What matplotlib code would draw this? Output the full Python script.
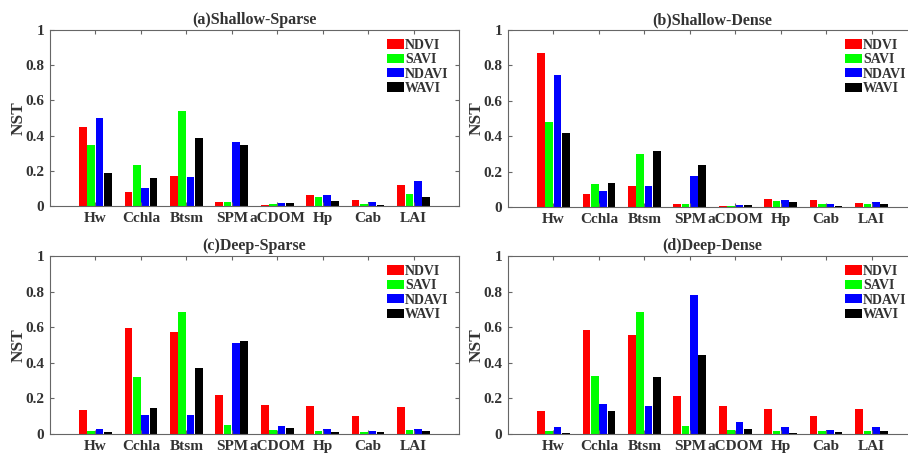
import numpy as np
import matplotlib
matplotlib.use("Agg")
import matplotlib.pyplot as plt
from matplotlib.patches import Patch

categories = ["Hw", "Cchla", "Btsm", "SPM", "aCDOM", "Hp", "Cab", "LAI"]
series_names = ["NDVI", "SAVI", "NDAVI", "WAVI"]
colors = ["#FF0000", "#00FF00", "#0000FF", "#000000"]
titles = ["(a)Shallow-Sparse", "(b)Shallow-Dense", "(c)Deep-Sparse", "(d)Deep-Dense"]
yticks = [0, 0.2, 0.4, 0.6, 0.8, 1]
ytick_labels = ["0", "0.2", "0.4", "0.6", "0.8", "1"]

# (a) Shallow-Sparse
a_ndvi = [0.451, 0.077, 0.169, 0.024, 0.007, 0.060, 0.034, 0.117]
a_savi = [0.344, 0.235, 0.539, 0.024, 0.011, 0.050, 0.013, 0.066]
a_ndavi = [0.502, 0.105, 0.165, 0.363, 0.017, 0.060, 0.020, 0.143]
a_wavi = [0.190, 0.160, 0.385, 0.346, 0.017, 0.030, 0.007, 0.051]
# (b) Shallow-Dense
b_ndvi = [0.872, 0.075, 0.120, 0.019, 0.006, 0.047, 0.038, 0.022]
b_savi = [0.481, 0.132, 0.298, 0.017, 0.006, 0.034, 0.017, 0.017]
b_ndavi = [0.743, 0.089, 0.120, 0.177, 0.012, 0.040, 0.015, 0.026]
b_wavi = [0.420, 0.138, 0.315, 0.240, 0.014, 0.030, 0.006, 0.019]
# (c) Deep-Sparse
c_ndvi = [0.133, 0.598, 0.571, 0.218, 0.165, 0.156, 0.103, 0.152]
c_savi = [0.017, 0.323, 0.686, 0.049, 0.024, 0.017, 0.013, 0.021]
c_ndavi = [0.028, 0.109, 0.107, 0.511, 0.047, 0.026, 0.017, 0.026]
c_wavi = [0.011, 0.147, 0.370, 0.523, 0.034, 0.011, 0.013, 0.017]
# (d) Deep-Dense
d_ndvi = [0.130, 0.585, 0.555, 0.215, 0.157, 0.143, 0.102, 0.140]
d_savi = [0.017, 0.325, 0.685, 0.047, 0.021, 0.017, 0.015, 0.017]
d_ndavi = [0.038, 0.166, 0.157, 0.779, 0.070, 0.038, 0.025, 0.038]
d_wavi = [0.008, 0.130, 0.319, 0.442, 0.026, 0.008, 0.011, 0.015]

panels = [
    [a_ndvi, a_savi, a_ndavi, a_wavi],
    [b_ndvi, b_savi, b_ndavi, b_wavi],
    [c_ndvi, c_savi, c_ndavi, c_wavi],
    [d_ndvi, d_savi, d_ndavi, d_wavi],
]

plt.rcParams['font.family'] = ['Liberation Serif', 'DejaVu Serif']
plt.rcParams['font.weight'] = 'bold'

W, H = 908, 454
fig = plt.figure(figsize=(W / 100, H / 100), dpi=100)

# axes rectangles in pixels: left, top, right, bottom
rects = [(50, 30, 459, 206), (508, 30, 917, 207), (50, 256, 459, 434), (508, 256, 917, 434)]

spine_col = "#666666"
text_col = "#333333"
x = np.arange(1, len(categories) + 1)
pitch = 0.183
bw = 0.168

for i, (l, t, r, b) in enumerate(rects):
    ax = fig.add_axes([l / W, (H - b) / H, (r - l) / W, (b - t) / H])
    for j, vals in enumerate(panels[i]):
        ax.bar(x + (j - 1.5) * pitch, vals, width=bw, color=colors[j], edgecolor='none')
    ax.set_xlim(0, 9)
    ax.set_ylim(0, 1)
    ax.set_xticks(x)
    ax.set_xticklabels(categories)
    ax.set_yticks(yticks)
    ax.set_yticklabels(ytick_labels)
    ax.tick_params(direction='in', top=True, right=True, length=3, width=0.8,
                   colors=spine_col, labelcolor=text_col, labelsize=11, pad=4)
    for lab in ax.get_xticklabels() + ax.get_yticklabels():
        lab.set_fontweight('bold')
    for s in ax.spines.values():
        s.set_color(spine_col)
        s.set_linewidth(0.8)
    ax.set_ylabel("NST", fontsize=12.5, fontweight='bold', color=text_col)
    ax.yaxis.set_label_coords(-0.058, 0.5)
    ax.set_title(titles[i], fontsize=11.5, fontweight='bold', color=text_col, pad=4)
    handles = [Patch(facecolor=c, edgecolor='none') for c in colors]
    leg = ax.legend(handles, series_names, loc='upper right', frameon=False,
                    prop={'weight': 'bold', 'size': 10}, handlelength=1.25, handleheight=0.65,
                    handletextpad=0.1, labelspacing=0.1, borderaxespad=0.0, borderpad=0.0,
                    bbox_to_anchor=(0.975, 0.95))
    for txt in leg.get_texts():
        txt.set_color(text_col)

fig.savefig("out.png", dpi=100)
